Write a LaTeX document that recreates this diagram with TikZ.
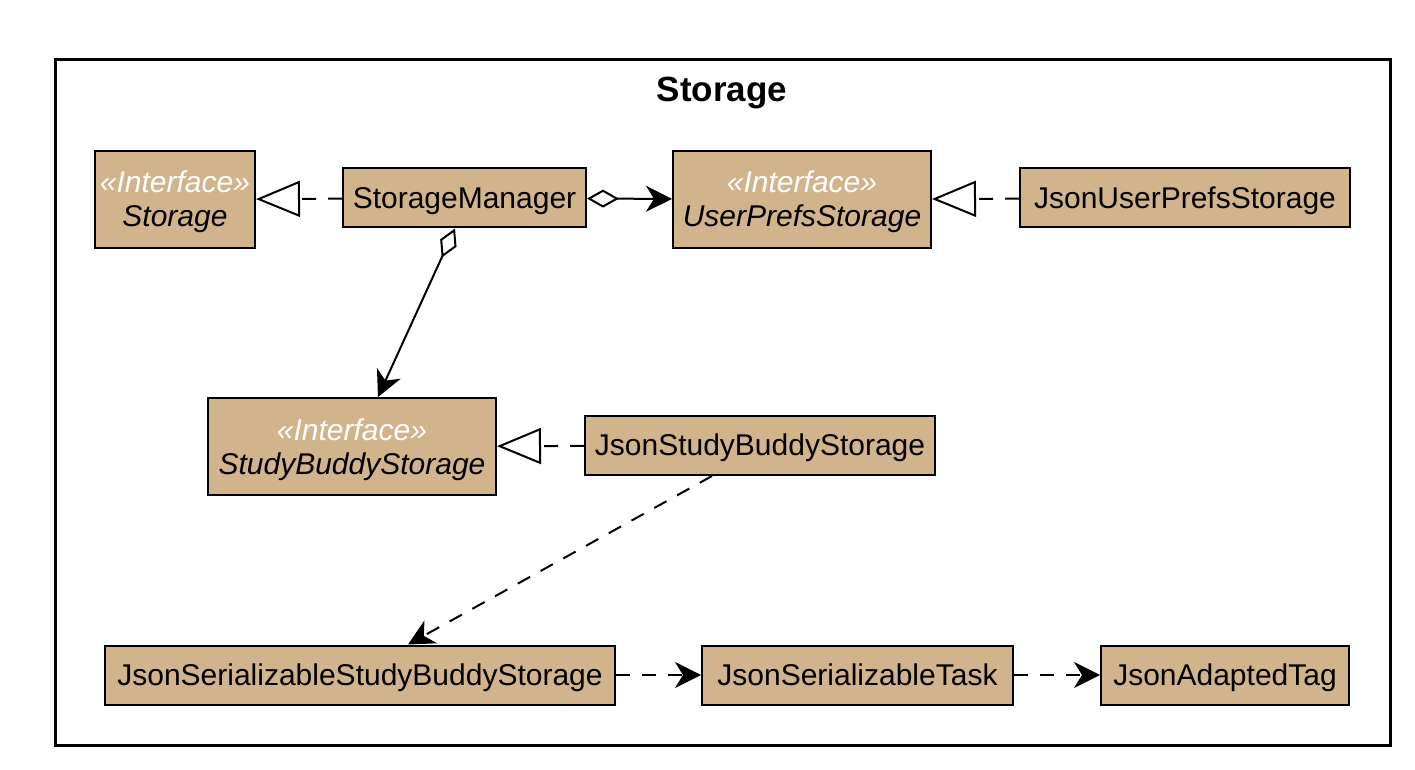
\documentclass[tikz,border=0pt]{standalone}
\usepackage{fontspec}
\setmainfont{Liberation Sans}
\usetikzlibrary{arrows.meta}

\definecolor{umltan}{HTML}{D2B48C}

\begin{document}
\begin{tikzpicture}[x=0.5pt,y=-0.5pt,
  cls/.style={rectangle,draw,fill=umltan,line width=1pt,inner sep=0pt,
    minimum height=29.5pt,text height=12.5pt,text depth=2pt,
    font=\fontsize{15}{17}\selectfont},
  iface/.style={rectangle,draw,fill=umltan,line width=1pt,inner sep=0pt,
    minimum height=48.5pt,align=center,text height=29.5pt,text depth=2pt,
    font=\fontsize{15}{17}\selectfont\itshape},
  realizes/.style={dashed,dash pattern=on 7pt off 6pt,line width=1pt,
    -{Triangle[open,length=22pt,width=18pt,fill=white]}},
  uses/.style={dashed,dash pattern=on 7pt off 6pt,line width=1pt,
    -{Stealth[length=13pt,width=13pt,inset=4pt]}},
  owns/.style={line width=1pt,
    {Diamond[open,length=16pt,width=9pt,fill=white]}-{Stealth[length=13pt,width=13pt,inset=4pt]}}]
\useasboundingbox (0,0) rectangle (1415,770);

\draw [line width=1.5pt] (55,60) rectangle (1390,745);
\node[font=\fontsize{17.5}{20}\selectfont\bfseries] (title) at (722,93){Storage};

\node[iface,minimum width=80pt] (storage) at (175,199.5){\textcolor{white}{«Interface»}\\Storage};
\node[cls,minimum width=121.5pt] (mgr) at (464.5,198){StorageManager};
\node[iface,minimum width=129pt] (ups) at (802,199.5){\textcolor{white}{«Interface»}\\UserPrefsStorage};
\node[cls,minimum width=165pt] (jups) at (1185,198){JsonUserPrefsStorage};

\node[iface,minimum width=144pt] (sbs) at (352,446.5){\textcolor{white}{«Interface»}\\StudyBuddyStorage};
\node[cls,minimum width=175pt] (jsbs) at (760,445.5){JsonStudyBuddyStorage};

\node[cls,minimum width=255pt] (jssbs) at (360,675){JsonSerializableStudyBuddyStorage};
\node[cls,minimum width=155.5pt] (jst) at (857.5,675){JsonSerializableTask};
\node[cls,minimum width=124pt] (jat) at (1225,675){JsonAdaptedTag};

\draw [realizes] (mgr) -- (storage);
\draw [realizes] (jups) -- (ups);
\draw [realizes] (jsbs) -- (sbs);

\draw [owns] (mgr) -- (ups);
\draw [owns] ([xshift=-4.75pt]mgr.south) -- ([xshift=13pt]sbs.north);

\draw [uses] ([xshift=-24pt]jsbs.south) -- ([xshift=24pt]jssbs.north);
\draw [uses] (jssbs) -- (jst);
\draw [uses] (jst) -- (jat);

\end{tikzpicture}
\end{document}
